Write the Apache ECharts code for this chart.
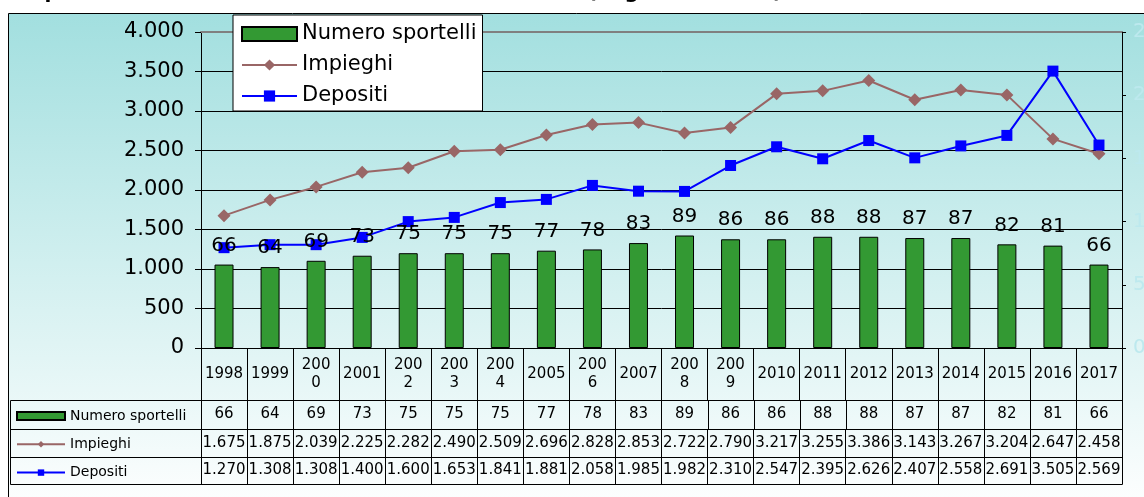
<!DOCTYPE html>
<html>
<head>
<meta charset="utf-8">
<script src="https://cdn.jsdelivr.net/npm/echarts@6/dist/echarts.min.js"></script>
<style>html,body{margin:0;padding:0;background:#fff}#c{width:1144px;height:497px}</style>
</head>
<body>
<div id="c"></div>
<script>
// ---- data ----
const years = ['1998','1999','2000','2001','2002','2003','2004','2005','2006','2007','2008','2009','2010','2011','2012','2013','2014','2015','2016','2017'];
const tickLabels = ['1998','1999','200\n0','2001','200\n2','200\n3','200\n4','2005','200\n6','2007','200\n8','200\n9','2010','2011','2012','2013','2014','2015','2016','2017'];
const sportelli = [66,64,69,73,75,75,75,77,78,83,89,86,86,88,88,87,87,82,81,66];
const impieghi = [1675,1875,2039,2225,2282,2490,2509,2696,2828,2853,2722,2790,3217,3255,3386,3143,3267,3204,2647,2458];
const depositi = [1270,1308,1308,1400,1600,1653,1841,1881,2058,1985,1982,2310,2547,2395,2626,2407,2558,2691,3505,2569];
const leftAxis = {min: 0, max: 4000, interval: 500};
const rightAxis = {min: 0, max: 250, interval: 50};

function fmt(v) { return String(v).replace(/\B(?=(\d{3})+(?!\d))/g, '.'); }

const chart = echarts.init(document.getElementById('c'));
const FONT = 'DejaVu Sans';
const GL = 201, GR = 1122, GT = 32, GB = 348;

function tableAxis(data, offset, tickLen, labelMargin, showLabel) {
  return {
    type: 'category', position: 'bottom', gridIndex: 0, offset: offset, data: data,
    axisLine: {show: true, onZero: false, lineStyle: {color: '#000', width: 1}},
    axisTick: {show: tickLen > 0, length: tickLen, interval: 0, lineStyle: {color: '#000', width: 1}},
    axisLabel: {show: showLabel, interval: 0, color: '#000', fontSize: 15, fontFamily: FONT,
      margin: labelMargin, verticalAlign: 'middle', lineHeight: 18, hideOverlap: false},
    splitLine: {show: false}
  };
}

function hline(y) {
  return {type: 'line', silent: true, z: 5, shape: {x1: 10.5, y1: y + 0.5, x2: GR + 0.5, y2: y + 0.5}, style: {stroke: '#000', lineWidth: 1}};
}

const baseGraphic = [
  {type: 'rect', z: -10, silent: true,
    shape: {x: 8.5, y: 13.5, width: 1150, height: 500},
    style: {fill: new echarts.graphic.LinearGradient(0, 0, 0, 1, [
      {offset: 0, color: '#a2dfdf'}, {offset: 1, color: '#ffffff'}]), stroke: '#000', lineWidth: 1}},
  hline(400), hline(429), hline(457), hline(484),
  {type: 'line', silent: true, shape: {x1: 10.5, y1: 400.5, x2: 10.5, y2: 484.5}, style: {stroke: '#000', lineWidth: 1}}
];

const option = {
  animation: false,
  textStyle: {fontFamily: FONT},
  title: {
    text: '{a|Sportelli e masse intermediate dalla banca }{b|(migliaia di euro)}',
    left: 30, top: -17, padding: 0,
    textStyle: {fontSize: 20, fontWeight: 'bold', color: '#000', fontFamily: FONT,
      rich: {
        a: {fontSize: 20, fontWeight: 'bold', color: '#000', fontFamily: FONT},
        b: {fontSize: 20, fontWeight: 'bold', color: '#000', fontFamily: FONT, padding: [0, 0, 0, 66]}
      }}
  },
  graphic: baseGraphic,
  legend: [
    {
      data: [{name: 'Numero sportelli', icon: 'rect'}, 'Impieghi', 'Depositi'],
      orient: 'vertical', left: 233, top: 15,
      backgroundColor: '#fff', borderColor: '#000', borderWidth: 1,
      padding: [8, 6, 4, 8], itemWidth: 55, itemHeight: 14, itemGap: 9,
      textStyle: {fontSize: 21, lineHeight: 22, color: '#000', fontFamily: FONT},
      selectedMode: false
    },
    {
      data: [{name: 'Numero sportelli', icon: 'rect'}, 'Impieghi', 'Depositi'],
      orient: 'vertical', left: 16, top: 408,
      padding: 0, itemWidth: 48, itemHeight: 8, itemGap: 12.3,
      textStyle: {fontSize: 14, lineHeight: 16, color: '#000', fontFamily: FONT},
      selectedMode: false
    }
  ],
  grid: {left: GL, right: 1144 - GR, top: GT, height: GB - GT, containLabel: false, outerBoundsMode: 'none'},
  xAxis: [
    tableAxis(tickLabels, 0, 52, 26, true),
    tableAxis(sportelli.map(String), 52, 0, 14.5, true),
    tableAxis(impieghi.map(fmt), 81, 28, 14, true),
    tableAxis(depositi.map(fmt), 109, 27, 13.5, true),
    tableAxis(years, 136, 0, 0, false),
    {type: 'category', position: 'top', data: years,
      axisLine: {show: true, onZero: false, lineStyle: {color: '#808080', width: 2}},
      axisTick: {show: false}, axisLabel: {show: false}, splitLine: {show: false}}
  ],
  yAxis: [
    {type: 'value', position: 'left', min: leftAxis.min, max: leftAxis.max, interval: leftAxis.interval,
      axisLine: {show: true, onZero: false, lineStyle: {color: '#000'}},
      axisTick: {show: true, length: 6, lineStyle: {color: '#000'}},
      axisLabel: {color: '#000', fontSize: 21, margin: 17, formatter: v => fmt(v), fontFamily: FONT},
      splitLine: {show: true, lineStyle: {color: '#000', width: 1}}},
    {type: 'value', position: 'right', min: rightAxis.min, max: rightAxis.max, interval: rightAxis.interval,
      axisLine: {show: true, onZero: false, lineStyle: {color: '#000'}},
      axisTick: {show: true, length: 4, lineStyle: {color: '#000'}},
      axisLabel: {color: '#bde9ee', fontSize: 20, margin: 11, fontFamily: FONT},
      splitLine: {show: false}}
  ],
  series: [
    {name: 'Numero sportelli', type: 'bar', xAxisIndex: 0, yAxisIndex: 1, data: sportelli,
      barWidth: 19, z: 3,
      itemStyle: {color: '#339933', borderColor: '#000', borderWidth: 1},
      label: {show: true, position: 'top', distance: 9, color: '#000', fontSize: 20, fontFamily: FONT}},
    {name: 'Impieghi', type: 'line', xAxisIndex: 0, yAxisIndex: 0, data: impieghi,
      symbol: 'diamond', symbolSize: 13, z: 2,
      lineStyle: {color: '#996666', width: 2}, itemStyle: {color: '#996666'}},
    {name: 'Depositi', type: 'line', xAxisIndex: 0, yAxisIndex: 0, data: depositi,
      symbol: 'rect', symbolSize: 11, z: 2,
      lineStyle: {color: '#0000ff', width: 2}, itemStyle: {color: '#0000ff'}}
  ]
};
chart.setOption(option);

// vertical cell separators of the "Numero sportelli" row, placed from the category axis scale
const c0 = chart.convertToPixel({xAxisIndex: 0}, years[0]);
const c1 = chart.convertToPixel({xAxisIndex: 0}, years[1]);
const bw = c1 - c0;
const sep = [];
for (let i = 0; i <= years.length; i++) {
  const x = Math.round(c0 + (i - 0.5) * bw) + 0.5;
  sep.push({type: 'line', silent: true, z: 10, shape: {x1: x, y1: 400, x2: x, y2: 430}, style: {stroke: '#000', lineWidth: 1}});
}
chart.setOption({graphic: baseGraphic.concat(sep)});
</script>
</body>
</html>
